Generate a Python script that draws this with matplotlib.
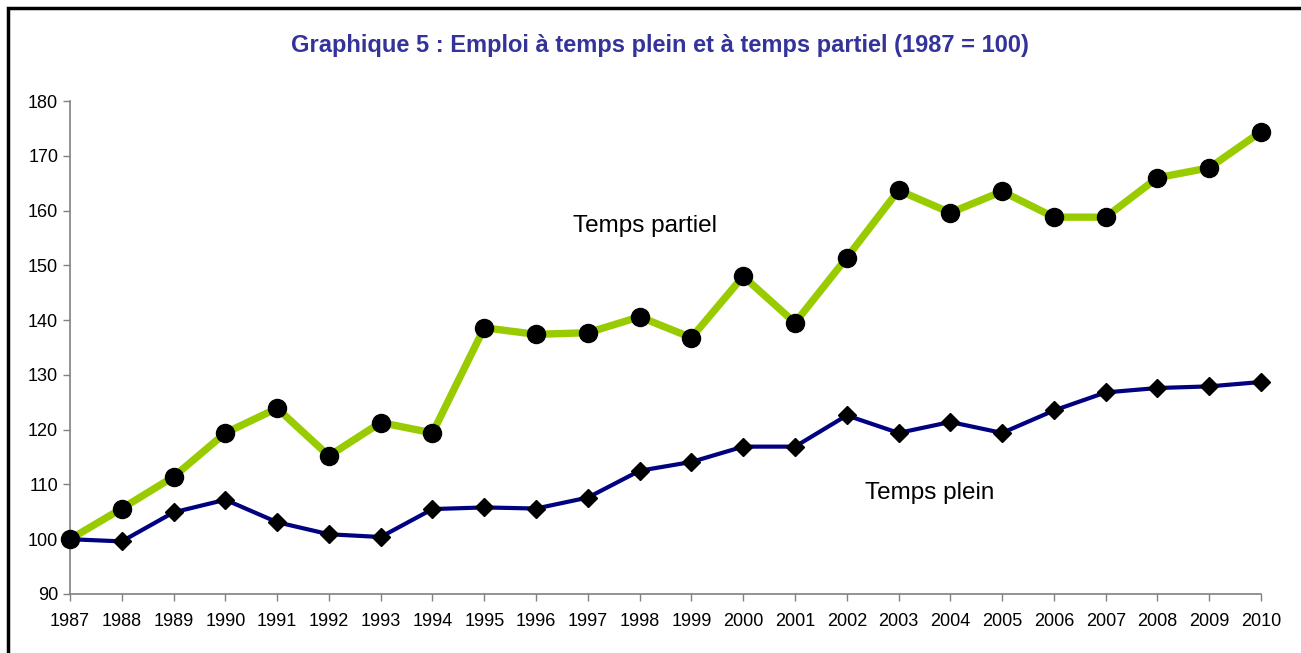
import matplotlib.pyplot as plt
from matplotlib.patches import Rectangle

plt.rcParams["font.family"] = ["Liberation Sans", "DejaVu Sans"]

years = list(range(1987, 2011))
# Emploi à temps partiel (1987 = 100)
partiel = [100.0, 105.6, 111.4, 119.4, 123.9, 115.2, 121.3, 119.4, 138.6, 137.4,
           137.7, 140.6, 136.8, 148.0, 139.5, 151.4, 163.7, 159.6, 163.5, 158.8,
           158.8, 166.0, 167.8, 174.4]
# Emploi à temps plein (1987 = 100)
plein = [100.0, 99.6, 104.9, 107.2, 103.1, 100.9, 100.4, 105.5, 105.8, 105.6,
         107.6, 112.5, 114.1, 116.9, 116.9, 122.6, 119.4, 121.4, 119.4, 123.5,
         126.8, 127.6, 127.9, 128.7]
y_ticks = list(range(90, 181, 10))

fig = plt.figure(figsize=(13.01, 6.53), dpi=100)
ax = fig.add_axes([0.0538, 0.0904, 0.9155, 0.7549])

ax.plot(years, partiel, color="#99CC00", lw=5.3, marker="o", ms=13,
        mfc="black", mec="black", zorder=3, clip_on=False)
ax.plot(years, plein, color="#000080", lw=3, marker="D", ms=9.5,
        mfc="black", mec="black", zorder=4, clip_on=False)

ax.set_xlim(1987, 2010)
ax.set_ylim(90, 180)
ax.set_xticks(years)
ax.set_yticks(y_ticks)
ax.tick_params(axis="both", direction="out", length=5, width=1, color="#808080",
               labelsize=13, labelcolor="black")
ax.tick_params(axis="x", pad=9)
ax.tick_params(axis="y", pad=3.5)
for side in ["top", "right"]:
    ax.spines[side].set_visible(False)
for side in ["left", "bottom"]:
    ax.spines[side].set_color("#808080")
    ax.spines[side].set_linewidth(1.2)

ax.text(1998.1, 157.2, "Temps partiel", fontsize=17.5, ha="center", va="center")
ax.text(2003.6, 108.4, "Temps plein", fontsize=17.5, ha="center", va="center")

fig.text(0.507, 0.931, "Graphique 5 : Emploi à temps plein et à temps partiel (1987 = 100)",
         ha="center", va="center", fontsize=17, fontweight="bold", color="#333399")

# cadre
fig.patches.append(Rectangle((8 / 1301, -0.1), 1.2, 1.1 - 8 / 653, fill=False,
                             lw=2.5, edgecolor="black", transform=fig.transFigure))

fig.savefig("out.png", dpi=100)
